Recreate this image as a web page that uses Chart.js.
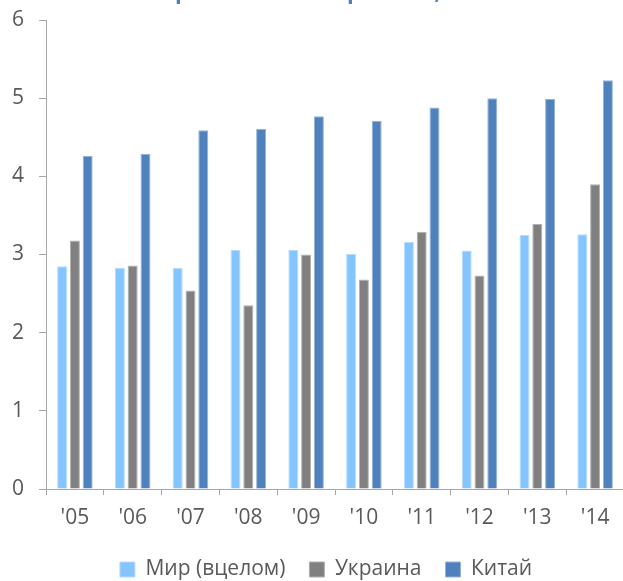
<!DOCTYPE html>
<html>
<head>
<meta charset="utf-8">
<script src="https://cdn.jsdelivr.net/npm/chart.js@4.4.1/dist/chart.umd.min.js"></script>
<style>
  html, body { margin: 0; padding: 0; background: #fff; overflow: hidden; width: 623px; height: 581px; }
  #wrap { position: absolute; left: 0; top: -20px; width: 652px; height: 610px; }
</style>
</head>
<body>
<div id="wrap"><canvas id="c" width="652" height="610"></canvas></div>
<script>
const titleText = 'Урожайность зерновых, т/га';
const categories = ["'05", "'06", "'07", "'08", "'09", "'10", "'11", "'12", "'13", "'14"];
const seriesNames = ['Мир (вцелом)', 'Украина', 'Китай'];
const worldValues   = [2.85, 2.83, 2.83, 3.06, 3.06, 3.01, 3.16, 3.05, 3.25, 3.26];
const ukraineValues = [3.18, 2.86, 2.54, 2.35, 3.00, 2.68, 3.29, 2.73, 3.39, 3.90];
const chinaValues   = [4.26, 4.29, 4.59, 4.61, 4.77, 4.71, 4.88, 5.00, 4.99, 5.23];
const yTicks = [0, 1, 2, 3, 4, 5, 6];

const FONT = '"Open Sans", "Noto Sans", sans-serif';
const axisColor = '#A6A6A6';
const textColor = '#595959';

new Chart(document.getElementById('c'), {
  type: 'bar',
  data: {
    labels: categories,
    datasets: [
      { label: seriesNames[0], data: worldValues,   backgroundColor: '#85C5FF', borderColor: '#B5DBFF', borderWidth: 1 },
      { label: seriesNames[1], data: ukraineValues, backgroundColor: '#808080', borderColor: '#B0B0B0', borderWidth: 1 },
      { label: seriesNames[2], data: chinaValues,   backgroundColor: '#4F81BD', borderColor: '#95B3D7', borderWidth: 1 }
    ]
  },
  options: {
    responsive: false,
    animation: false,
    categoryPercentage: 0.664,
    barPercentage: 0.78,
    layout: { padding: 0 },
    plugins: {
      title: {
        display: true,
        text: titleText,
        color: '#4F81BD',
        font: { family: FONT, size: 22, weight: 'bold' },
        padding: { top: 0, bottom: 13.6 }
      },
      legend: {
        position: 'bottom',
        labels: {
          boxWidth: 15,
          boxHeight: 15,
          padding: 24,
          color: textColor,
          font: { family: FONT, size: 21 }
        }
      },
      tooltip: { enabled: false }
    },
    scales: {
      x: {
        grid: { display: true, drawOnChartArea: false, drawTicks: true, tickLength: 6, color: axisColor },
        border: { display: true, color: axisColor, width: 1 },
        ticks: { color: textColor, font: { family: FONT, size: 21 }, padding: 10 },
        afterFit: (s) => { s.height = 46; }
      },
      y: {
        min: 0,
        max: 6,
        afterBuildTicks: (s) => { s.ticks = yTicks.map(v => ({ value: v })); },
        grid: { display: true, drawOnChartArea: false, drawTicks: true, tickLength: 7, color: axisColor },
        border: { display: true, color: axisColor, width: 1 },
        ticks: { color: textColor, font: { family: FONT, size: 21 }, padding: 15 },
        afterFit: (s) => { s.width = 46; }
      },
      yPad: {
        position: 'right',
        display: true,
        grid: { display: false },
        border: { display: false },
        ticks: { display: false },
        afterFit: (s) => { s.width = 28; }
      }
    }
  }
});
</script>
</body>
</html>
